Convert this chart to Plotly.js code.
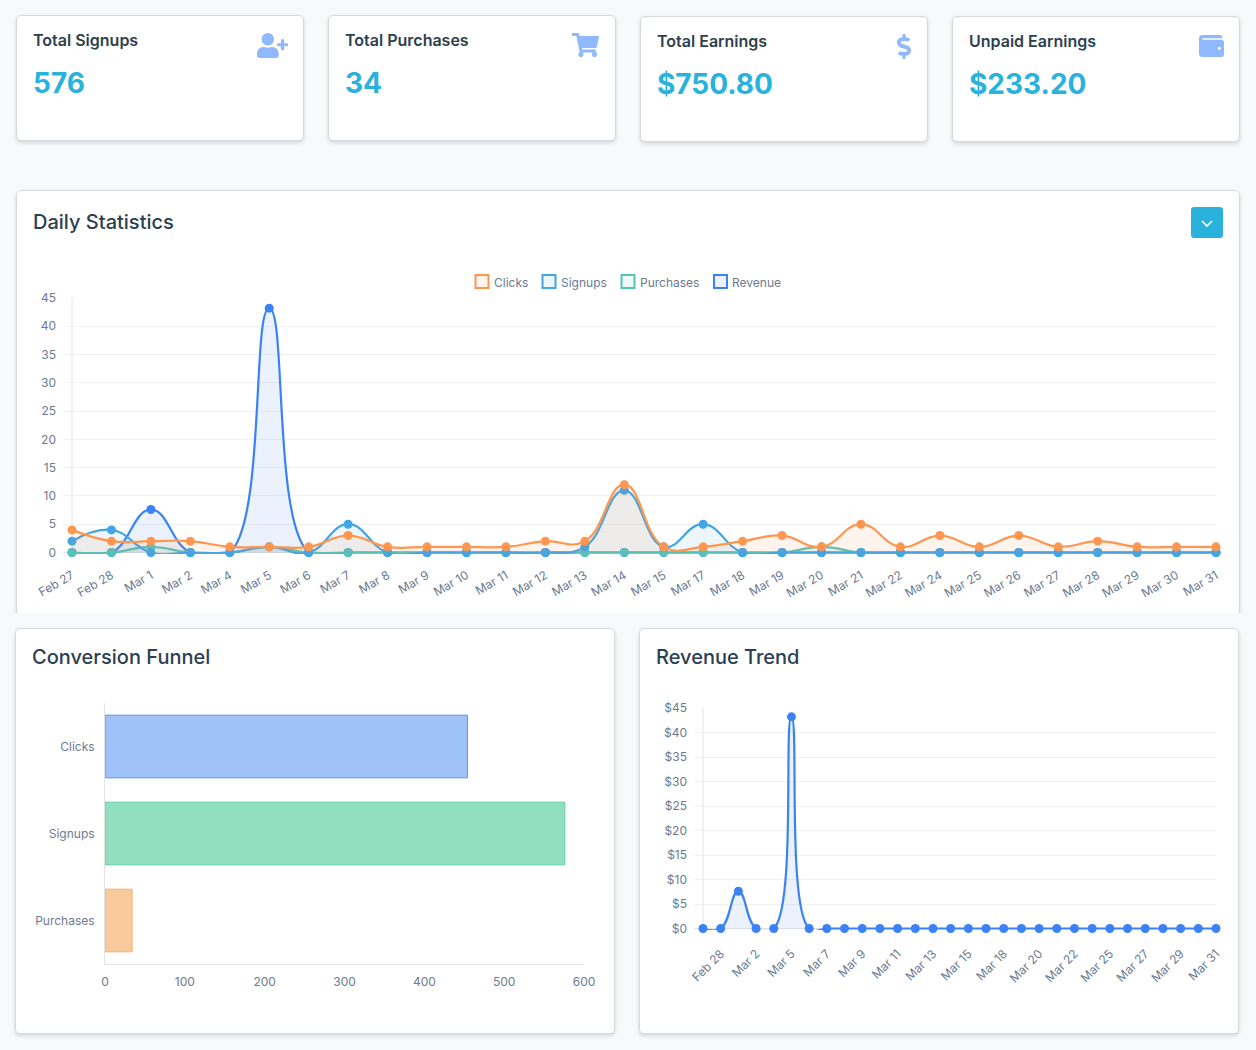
<!DOCTYPE html>
<html><head><meta charset="utf-8">
<script src="https://cdn.plot.ly/plotly-3.0.1.min.js"></script>
<style>
html,body{margin:0;padding:0;background:#f8f9fb;width:1256px;height:1050px;overflow:hidden;font-family:Inter,sans-serif}
.card{position:absolute;box-sizing:border-box;background:#fff;border:1px solid #d6d9dd;border-radius:5px;box-shadow:0 2px 4px rgba(0,0,0,.14)}
.stat{width:288px;height:126px}
.stat .t{position:absolute;left:16px;top:14px;font-size:16px;line-height:20px;font-weight:600;color:#2d4050}
.stat .v{position:absolute;left:16px;top:49px;font-size:28px;line-height:36px;font-weight:700;color:#29b2dc}
.stat svg{position:absolute;fill:#8fb8fd}
.h{position:absolute;font-size:20px;line-height:24px;font-weight:500;color:#2d4050}
.clip{position:absolute;left:0;top:0;width:1256px;height:613px;overflow:hidden}
.btn{position:absolute;left:1191px;top:207px;width:32px;height:31px;background:#29b2dc;border-radius:3px}
.plot{position:absolute}
</style></head><body>
<div class="card stat" style="left:16px;top:15px"><div class="t">Total Signups</div><div class="v">576</div>
<svg style="left:240px;top:17px;width:31px;height:25px" viewBox="0 0 640 512"><path d="M624 208h-64v-64c0-8.8-7.2-16-16-16h-32c-8.8 0-16 7.2-16 16v64h-64c-8.8 0-16 7.2-16 16v32c0 8.8 7.2 16 16 16h64v64c0 8.8 7.2 16 16 16h32c8.8 0 16-7.2 16-16v-64h64c8.8 0 16-7.2 16-16v-32c0-8.8-7.2-16-16-16zm-400 48c70.7 0 128-57.3 128-128S294.7 0 224 0 96 57.3 96 128s57.3 128 128 128zm89.6 32h-16.7c-22.2 10.2-46.9 16-72.9 16s-50.6-5.8-72.9-16h-16.7C60.2 288 0 348.2 0 422.4V464c0 26.5 21.5 48 48 48h352c26.5 0 48-21.5 48-48v-41.6c0-74.2-60.2-134.4-134.4-134.4z"/></svg></div>
<div class="card stat" style="left:328px;top:15px"><div class="t">Total Purchases</div><div class="v">34</div>
<svg style="left:243px;top:17px;width:27px;height:24px" viewBox="0 0 576 512"><path d="M528.12 301.319l47.273-208C578.806 78.301 567.391 64 551.99 64H159.208l-9.166-44.81C147.758 8.021 137.93 0 126.529 0H24C10.745 0 0 10.745 0 24v16c0 13.255 10.745 24 24 24h69.883l70.248 343.435C147.325 417.1 136 435.222 136 456c0 30.928 25.072 56 56 56s56-25.072 56-56c0-15.674-6.447-29.835-16.824-40h209.647C430.447 426.165 424 440.326 424 456c0 30.928 25.072 56 56 56s56-25.072 56-56c0-22.172-12.888-41.332-31.579-50.405l5.517-24.276c3.413-15.018-8.002-29.319-23.403-29.319H218.117l-6.545-32h293.145c11.206 0 20.92-7.754 23.403-18.681z"/></svg></div>
<div class="card stat" style="left:640px;top:16px"><div class="t">Total Earnings</div><div class="v">$750.80</div>
<svg style="left:256px;top:17px;width:14px;height:25px" viewBox="0 0 288 512"><path d="M209.2 233.4l-108-31.6C88.7 198.2 80 186.5 80 173.5c0-16.3 13.2-29.5 29.5-29.5h66.3c12.2 0 24.2 3.7 34.2 10.5 6.1 4.1 14.3 3.1 19.5-2l34.8-34c7.1-6.9 6.1-18.4-1.8-24.5C238 74.8 207.4 64.1 176 64V16c0-8.8-7.2-16-16-16h-32c-8.8 0-16 7.2-16 16v48h-2.5C45.8 64-5.4 118.7.5 183.6c4.2 46.1 39.4 83.6 83.8 96.6l102.5 30c12.5 3.7 21.2 15.3 21.2 28.3 0 16.3-13.2 29.5-29.5 29.5h-66.3C100 368 88 364.3 78 357.5c-6.1-4.1-14.3-3.1-19.5 2l-34.8 34c-7.1 6.9-6.1 18.4 1.8 24.5 24.5 19.2 55.1 29.9 86.5 30v48c0 8.8 7.2 16 16 16h32c8.8 0 16-7.2 16-16v-48.2c46.6-.9 90.3-28.6 105.7-72.7 21.5-61.6-14.6-124.8-72.5-141.7z"/></svg></div>
<div class="card stat" style="left:952px;top:16px"><div class="t">Unpaid Earnings</div><div class="v">$233.20</div>
<svg style="left:246px;top:15px;width:25px;height:28px" viewBox="0 0 512 512"><path d="M461.2 128H80c-8.84 0-16-7.16-16-16s7.16-16 16-16h384c8.84 0 16-7.16 16-16 0-26.51-21.49-48-48-48H64C28.65 32 0 60.65 0 96v320c0 35.35 28.65 64 64 64h397.2c28.02 0 50.8-21.53 50.8-48V176c0-26.47-22.78-48-50.8-48zM416 336c-17.67 0-32-14.33-32-32s14.33-32 32-32 32 14.33 32 32-14.33 32-32 32z"/></svg></div>

<div class="clip"><div class="card" style="left:16px;top:190px;width:1224px;height:460px"></div></div>
<div class="h" style="left:33px;top:210px">Daily Statistics</div>
<div class="btn"><svg width="32" height="31" viewBox="0 0 32 31"><path d="M11 14l5 5 5-5" fill="none" stroke="#fff" stroke-width="1.6"/></svg></div>
<div class="plot" id="daily" style="left:17px;top:260px;width:1222px;height:352px"></div>

<div class="card" style="left:15px;top:628px;width:600px;height:406px"></div>
<div class="h" style="left:32px;top:645px">Conversion Funnel</div>
<div class="plot" id="funnel" style="left:17px;top:690px;width:596px;height:330px"></div>

<div class="card" style="left:639px;top:628px;width:600px;height:406px"></div>
<div class="h" style="left:656px;top:645px">Revenue Trend</div>
<div class="plot" id="revenue" style="left:641px;top:690px;width:596px;height:330px"></div>

<script>
const days = ["Feb 27","Feb 28","Mar 1","Mar 2","Mar 4","Mar 5","Mar 6","Mar 7","Mar 8","Mar 9","Mar 10","Mar 11","Mar 12","Mar 13","Mar 14","Mar 15","Mar 17","Mar 18","Mar 19","Mar 20","Mar 21","Mar 22","Mar 24","Mar 25","Mar 26","Mar 27","Mar 28","Mar 29","Mar 30","Mar 31"];
const clicks    = [4,2,2,2,1,1,1,3,1,1,1,1,2,2,12,1,1,2,3,1,5,1,3,1,3,1,2,1,1,1];
const signups   = [2,4,0,0,0,1,0,5,0,0,0,0,0,1,11,1,5,0,0,0,0,0,0,0,0,0,0,0,0,0];
const purchases = [0,0,1,0,0,1,0,0,0,0,0,0,0,0,0,0,0,0,0,1,0,0,0,0,0,0,0,0,0,0];
const revenue   = [0,0,7.6,0,0,43.2,0,0,0,0,0,0,0,0,0,0,0,0,0,0,0,0,0,0,0,0,0,0,0,0];
const revenueTicks = ["Feb 28","Mar 2","Mar 5","Mar 7","Mar 9","Mar 11","Mar 13","Mar 15","Mar 18","Mar 20","Mar 22","Mar 25","Mar 27","Mar 29","Mar 31"];
const funnelLabels = ["Clicks","Signups","Purchases"];
const funnelValues = [454,576,34];
const funnelFill = ["#9fc2f6","#92dfc0","#f9cb9c"];
const funnelLine = ["#5a93ee","#5fd0a6","#f7b26e"];

const FONT = "Inter, sans-serif", TXT = "#6b7a90", GRID = "#f0f1f3", AXIS = "#e2e4e7", SMOOTH = 1.3;
const cfg = {displayModeBar:false, staticPlot:true};
const idx = days.map((_, i) => i);

function series(name, y, color, fill){
  return [
    {x:idx, y, name, type:"scatter", mode:"lines", fill:"tozeroy", fillcolor:fill, cliponaxis:true, showlegend:false,
     line:{color, width:2.2, shape:"spline", smoothing:SMOOTH}},
    {x:idx, y, name, type:"scatter", mode:"markers", cliponaxis:false, showlegend:false,
     marker:{color, size:9}}
  ];
}
const yAx = (extra) => Object.assign({tick0:0, dtick:5, gridcolor:GRID, gridwidth:1, showline:false,
  ticks:"", ticklabelstandoff:6, zeroline:true, zerolinecolor:AXIS, zerolinewidth:1,
  tickfont:{family:FONT,size:12,color:TXT}, fixedrange:true}, extra);
const axisLine = {type:"line", xref:"x", yref:"y", x0:0, x1:0, y0:0, y1:45, layer:"below", line:{color:AXIS, width:1}};

/* Daily */
const dailyDef = [["Clicks",clicks,"#ff9650","rgba(255,150,80,.1)"],["Signups",signups,"#41a5e6","rgba(65,165,230,.1)"],["Purchases",purchases,"#54c4bb","rgba(84,196,187,.1)"],["Revenue",revenue,"#3b82f6","rgba(59,130,246,.1)"]];
const dailyTraces = [...dailyDef].reverse().flatMap(d => series(d[0],d[1],d[2],d[3]));
const W = 1222, H = 352, ML = 46, MR = 23;
const legendX = [458.5,525.5,604.5,697];
const shapes = [axisLine], annotations = [];
dailyDef.forEach((d,i)=>{
  shapes.push({type:"rect",xref:"paper",yref:"paper",xsizemode:"pixel",ysizemode:"pixel",xanchor:(legendX[i]-ML)/(W-ML-MR),yanchor:1,
    x0:0,x1:13,y0:9,y1:22,fillcolor:d[3],line:{color:d[2],width:2}});
  annotations.push({xref:"paper",yref:"paper",x:(legendX[i]-ML+16)/(W-ML-MR),y:1,yshift:15,xanchor:"left",yanchor:"middle",showarrow:false,
    text:d[0],font:{family:FONT,size:12,color:TXT}});
});
Plotly.newPlot("daily", dailyTraces, {
  width:W, height:H, paper_bgcolor:"rgba(0,0,0,0)", plot_bgcolor:"rgba(0,0,0,0)",
  margin:{l:ML,r:MR,t:37,b:57.5,pad:0}, showlegend:false, shapes, annotations,
  xaxis:{range:[-0.2281,29], tickmode:"array", tickvals:idx, ticktext:days, tickangle:-30, showgrid:false, zeroline:false, showline:false,
    ticks:"outside", ticklen:9, tickcolor:"rgba(0,0,0,0)", tickfont:{family:FONT,size:12,color:TXT}, fixedrange:true},
  yaxis:yAx({range:[-0.265,45.176]})
}, cfg);

/* Funnel */
Plotly.newPlot("funnel", [{type:"bar", orientation:"h", y:funnelLabels, x:funnelValues, width:0.72,
  marker:{color:funnelFill, line:{color:funnelLine, width:1}}}], {
  width:596, height:330, paper_bgcolor:"rgba(0,0,0,0)", plot_bgcolor:"rgba(0,0,0,0)",
  margin:{l:88,r:29,t:12.5,b:55.5,pad:0}, showlegend:false,
  xaxis:{range:[0,600], dtick:100, tick0:0, showgrid:false, zeroline:false, showline:true, linecolor:AXIS, linewidth:1,
    ticks:"outside", ticklen:7, tickcolor:"rgba(0,0,0,0)", tickfont:{family:FONT,size:12,color:TXT}, fixedrange:true},
  yaxis:{autorange:"reversed", showgrid:false, zeroline:false, showline:true, linecolor:AXIS, linewidth:1,
    ticks:"outside", ticklen:7, tickcolor:"rgba(0,0,0,0)", tickfont:{family:FONT,size:12,color:TXT}, fixedrange:true}
}, cfg);

/* Revenue */
Plotly.newPlot("revenue", series("Revenue",revenue,"#3b82f6","rgba(59,130,246,.1)"), {
  width:596, height:330, paper_bgcolor:"rgba(0,0,0,0)", plot_bgcolor:"rgba(0,0,0,0)",
  margin:{l:53,r:21,t:17,b:90,pad:0}, showlegend:false, shapes:[axisLine],
  xaxis:{range:[-0.5088,29], tickmode:"array", tickvals:revenueTicks.map(t=>days.indexOf(t)), ticktext:revenueTicks, tickangle:-45,
    showgrid:false, zeroline:false, showline:false, ticks:"outside", ticklen:11, tickcolor:"rgba(0,0,0,0)",
    tickfont:{family:FONT,size:12,color:TXT}, fixedrange:true},
  yaxis:yAx({range:[-0.306,45.204], tickprefix:"$"})
}, cfg);
</script>
</body></html>
